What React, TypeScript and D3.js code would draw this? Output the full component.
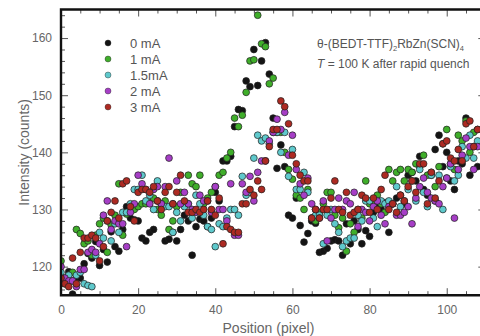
import { useEffect, useRef } from 'react';
import * as d3 from 'd3';

const seriesNames = ['0 mA', '1 mA', '1.5mA', '2 mA', '3 mA'];
const seriesColors = ['#141414', '#3fae2a', '#5ec9cc', '#a63ec6', '#ad2a22'];

// intensity per pixel position 0..108
const current0 = [
  117.4, 117.5, 119.1, 115.2, 118, 118, 120.5, 122.3, 121.5, 124.4,
  120.2, 123, 120.8, 126.1, 123.5, 122.7, 126.5, 130.5, 128.5, 128.2,
  128, 125, 124.5, 126, 126.5, 131.5, 131, 124.5, 124.8, 126,
  124.5, 126.5, 129, 128, 122, 127, 128.3, 128, 127, 128.5,
  133, 131.5, 138.5, 138.5, 139.3, 144.5, 147.5, 147.3, 152.5, 151.5,
  158, 151.7, 156, 159.2, 153.7, 146, 137.2, 141.3, 137.5, 129,
  128.5, 132, 127.2, 124.3, 125.8, 128, 127.6, 122.5, 122.7, 123.2,
  124.5, 124.7, 124.5, 122, 127.5, 124, 128, 126.5, 124, 126.3,
  125.3, 129.5, 131, 130, 131.2, 126, 131, 132, 132.5, 131,
  136, 136.5, 135, 139.3, 133.5, 132.5, 136, 140.5, 143, 137.5,
  140, 135, 133.5, 138.5, 138, 146, 136, 141, 137.5,
];
const current1 = [
  121, 117, 118.5, 119, 126.5, 125.8, 124, 124.5, 122, 125.5,
  127.5, 128.5, 122.5, 127.3, 129, 134.5, 125.5, 129.2, 130.5, 130,
  130.5, 131, 131, 131.2, 132, 130, 129, 131.5, 126.5, 128,
  130.5, 133, 131, 136, 134.5, 134, 136, 131, 132, 133,
  134, 136, 136.5, 139, 140, 146, 144.5, 146.5, 150.5, 156,
  156.2, 164, 159, 158.5, 152, 153, 143.5, 143.5, 140, 137,
  135.3, 132.5, 132, 130, 133.5, 128.5, 128, 129.5, 131, 133,
  133, 129, 126.8, 128.5, 122.7, 127.5, 126, 130, 128.5, 135,
  131, 131.5, 132.5, 131, 129.5, 137, 135, 136.5, 137, 135,
  137, 136.5, 138, 137.5, 139.5, 136, 136.5, 134, 137.5, 141.5,
  144, 138, 137, 143, 142, 145.5, 140, 143.5, 144,
];
const current15 = [
  119, 118, 118.5, 117.5, 118.5, 119, 117, 116.7, 116.5, 122,
  126, 125, 128, 124.5, 127.5, 126, 129.5, 129.5, 131, 133.5,
  133.5, 136, 131.5, 132.5, 130, 135, 131, 130.5, 130.5, 126,
  129.5, 128, 130.5, 131, 128.5, 132.5, 131, 129, 127, 126.5,
  123.5, 127.5, 127, 128.5, 130, 130, 129, 135.8, 132.5, 133,
  139, 143, 142, 142.5, 141.5, 143.5, 143.5, 140, 143.5, 135.8,
  140.5, 133.5, 133.5, 136.5, 133, 128.5, 129, 129, 124, 129,
  130, 127.5, 126, 123.5, 124.5, 125, 125, 129, 128, 131.5,
  131.5, 128.5, 127, 131.5, 131, 131.5, 131, 134, 130.5, 131.5,
  133.5, 135, 131.5, 137, 133, 130.5, 136, 131.5, 136, 130,
  135.5, 137.5, 135, 136, 141, 139, 143, 139, 142,
];
const current2 = [
  120, 118, 117.5, 117.5, 116.5, 119.5, 119.5, 122.5, 123, 122.5,
  124, 129, 131.5, 126.5, 128, 127.5, 127.5, 123.5, 129.5, 131,
  136, 134.5, 133.5, 131, 133.5, 134, 131, 134, 139, 131,
  135, 131, 133, 131, 130, 129.5, 132.5, 131.5, 131.5, 129.5,
  134, 130, 130, 128, 134.5, 125.5, 125.5, 134.5, 133, 135.8,
  131.5, 136.5, 138.5, 138.5, 142, 143.5, 145.8, 144, 147, 139.5,
  143, 137, 134.5, 132.5, 135.5, 131, 130, 128.5, 131.5, 124.5,
  128.5, 130, 132, 130, 131.5, 131, 133, 127, 130, 129.5,
  128, 130.5, 131.5, 129, 127.5, 130.5, 131, 129, 129, 129.5,
  130.5, 127.5, 132, 134, 135.5, 133, 132, 131.5, 131, 134,
  135.5, 138, 128.5, 137, 139.5, 142.5, 141, 137, 141,
];
const current3 = [
  118, 117, 116.5, 121.5, 117, 122.5, 125, 125, 125.5, 125,
  121, 123.5, 128, 129.5, 131.5, 128.5, 134.5, 135, 130.5, 128,
  133, 133.5, 133.5, 133, 134, 131.5, 130, 133, 134, 131,
  133, 136, 131.5, 129.5, 129.5, 130, 129.5, 130, 131.5, 130,
  129, 132, 124, 127, 126.5, 126, 126, 131, 131, 133.5,
  132.5, 135, 133.5, 138.5, 141, 144, 144, 149, 148, 145,
  139.5, 138, 136, 135, 135, 128.5, 130, 128.5, 130, 130,
  132, 135, 130, 129.5, 133, 129, 129.5, 130, 132.5, 132,
  129.5, 132, 130, 133.5, 136, 130, 131, 129.5, 132.5, 131.5,
  134, 135, 133, 138, 138, 131, 136.5, 132, 135, 141.5,
  142, 139, 138.5, 140.5, 138.5, 145, 145.5, 141, 144,
];

const seriesValues = [current0, current1, current15, current2, current3];

const xMajorTicks = [0, 20, 40, 60, 80, 100];
const yMajorTicks = [120, 130, 140, 150, 160];

const width = 480;
const height = 336;
const left = 61;
const top = 9.5;
const bottom = 295.2;
const right = 485.3;

export default function App() {
  const svgRef = useRef<SVGSVGElement>(null);

  useEffect(() => {
    if (!svgRef.current) return;
    const svg = d3.select(svgRef.current);
    svg.selectAll('*').remove();

    const x = d3.scaleLinear().domain([0, 110]).range([left, right]);
    const y = d3.scaleLinear().domain([115, 165]).range([bottom, top]);

    const xMinor = d3.range(0, 111, 5).filter((v) => v % 20 !== 0);
    const yMinor = d3.range(116, 165, 2).filter((v) => v % 10 !== 0);

    const font = "'Liberation Sans', Arial, sans-serif";
    const tickColor = '#666';

    const styleAxis = (g: d3.Selection<SVGGElement, unknown, null, undefined>) => {
      g.select('.domain').remove();
      g.selectAll('line').attr('stroke', '#555').attr('stroke-width', 1);
      g.selectAll('text')
        .attr('fill', tickColor)
        .attr('font-size', 12)
        .attr('font-family', font);
    };

    // bottom + top axes
    svg.append('g')
      .attr('transform', `translate(0,${bottom})`)
      .call(d3.axisBottom(x).tickValues(xMajorTicks).tickSizeInner(-7).tickSizeOuter(0).tickPadding(10))
      .call(styleAxis);
    svg.append('g')
      .attr('transform', `translate(0,${bottom})`)
      .call(d3.axisBottom(x).tickValues(xMinor).tickFormat(() => '').tickSizeInner(-4).tickSizeOuter(0))
      .call(styleAxis);
    svg.append('g')
      .attr('transform', `translate(0,${top})`)
      .call(d3.axisTop(x).tickValues(xMajorTicks).tickFormat(() => '').tickSizeInner(-7).tickSizeOuter(0))
      .call(styleAxis);
    svg.append('g')
      .attr('transform', `translate(0,${top})`)
      .call(d3.axisTop(x).tickValues(xMinor).tickFormat(() => '').tickSizeInner(-4).tickSizeOuter(0))
      .call(styleAxis);

    // left + right axes
    svg.append('g')
      .attr('transform', `translate(${left},0)`)
      .call(d3.axisLeft(y).tickValues(yMajorTicks).tickSizeInner(-7).tickSizeOuter(0).tickPadding(9))
      .call(styleAxis);
    svg.append('g')
      .attr('transform', `translate(${left},0)`)
      .call(d3.axisLeft(y).tickValues(yMinor).tickFormat(() => '').tickSizeInner(-4).tickSizeOuter(0))
      .call(styleAxis);
    svg.append('g')
      .attr('transform', `translate(${right},0)`)
      .call(d3.axisRight(y).tickValues(yMajorTicks).tickFormat(() => '').tickSizeInner(-7).tickSizeOuter(0))
      .call(styleAxis);

    svg.append('defs')
      .append('clipPath')
      .attr('id', 'plot-clip')
      .append('rect')
      .attr('x', left)
      .attr('y', top)
      .attr('width', right - left)
      .attr('height', bottom - top);

    const points = svg.append('g').attr('clip-path', 'url(#plot-clip)');
    seriesValues.forEach((values, si) => {
      points.append('g')
        .selectAll('circle')
        .data(values)
        .join('circle')
        .attr('cx', (_, i) => x(i))
        .attr('cy', (d) => y(d))
        .attr('r', 3.4)
        .attr('fill', seriesColors[si])
        .attr('stroke', '#222')
        .attr('stroke-opacity', 0.8)
        .attr('stroke-width', 0.9);
    });

    // frame
    svg.append('path')
      .attr('d', `M${right},${top}H${left}V${bottom}H${right}`)
      .attr('fill', 'none')
      .attr('stroke', '#111')
      .attr('stroke-width', 2.4);

    // legend
    const legend = svg.append('g').attr('transform', 'translate(108,43)');
    seriesNames.forEach((name, i) => {
      const row = legend.append('g').attr('transform', `translate(0,${i * 16})`);
      row.append('circle')
        .attr('r', 3)
        .attr('fill', seriesColors[i])
        .attr('stroke', '#2a2a2a')
        .attr('stroke-opacity', 0.6)
        .attr('stroke-width', 0.7);
      row.append('text')
        .attr('x', 22)
        .attr('y', 4.5)
        .attr('fill', '#555')
        .attr('font-size', 13)
        .attr('font-family', font)
        .text(name);
    });

    // annotation
    const note = svg.append('text')
      .attr('x', 317)
      .attr('y', 48)
      .attr('fill', '#555')
      .attr('font-size', 12)
      .attr('font-family', font);
    note.append('tspan').text('θ-(BEDT-TTF)');
    note.append('tspan').attr('font-size', 7.5).attr('dy', 3).text('2');
    note.append('tspan').attr('dy', -3).text('RbZn(SCN)');
    note.append('tspan').attr('font-size', 7.5).attr('dy', 3).text('4');

    const note2 = svg.append('text')
      .attr('x', 317)
      .attr('y', 68)
      .attr('fill', '#555')
      .attr('font-size', 12)
      .attr('font-family', font);
    note2.append('tspan').attr('font-style', 'italic').text('T');
    note2.append('tspan').text(' = 100 K after rapid quench');

    // axis titles
    svg.append('text')
      .attr('x', (left + x(108.6)) / 2 - 2)
      .attr('y', 333)
      .attr('text-anchor', 'middle')
      .attr('fill', tickColor)
      .attr('font-size', 14)
      .attr('font-family', font)
      .text('Position (pixel)');

    svg.append('text')
      .attr('transform', `translate(29,${(top + bottom) / 2}) rotate(-90)`)
      .attr('text-anchor', 'middle')
      .attr('fill', tickColor)
      .attr('font-size', 14)
      .attr('font-family', font)
      .text('Intensity (counts)');
  }, []);

  return (
    <div style={{ position: 'absolute', left: 0, top: 0, background: '#fff' }}>
      <svg ref={svgRef} width={width} height={height} style={{ display: 'block' }} />
    </div>
  );
}
